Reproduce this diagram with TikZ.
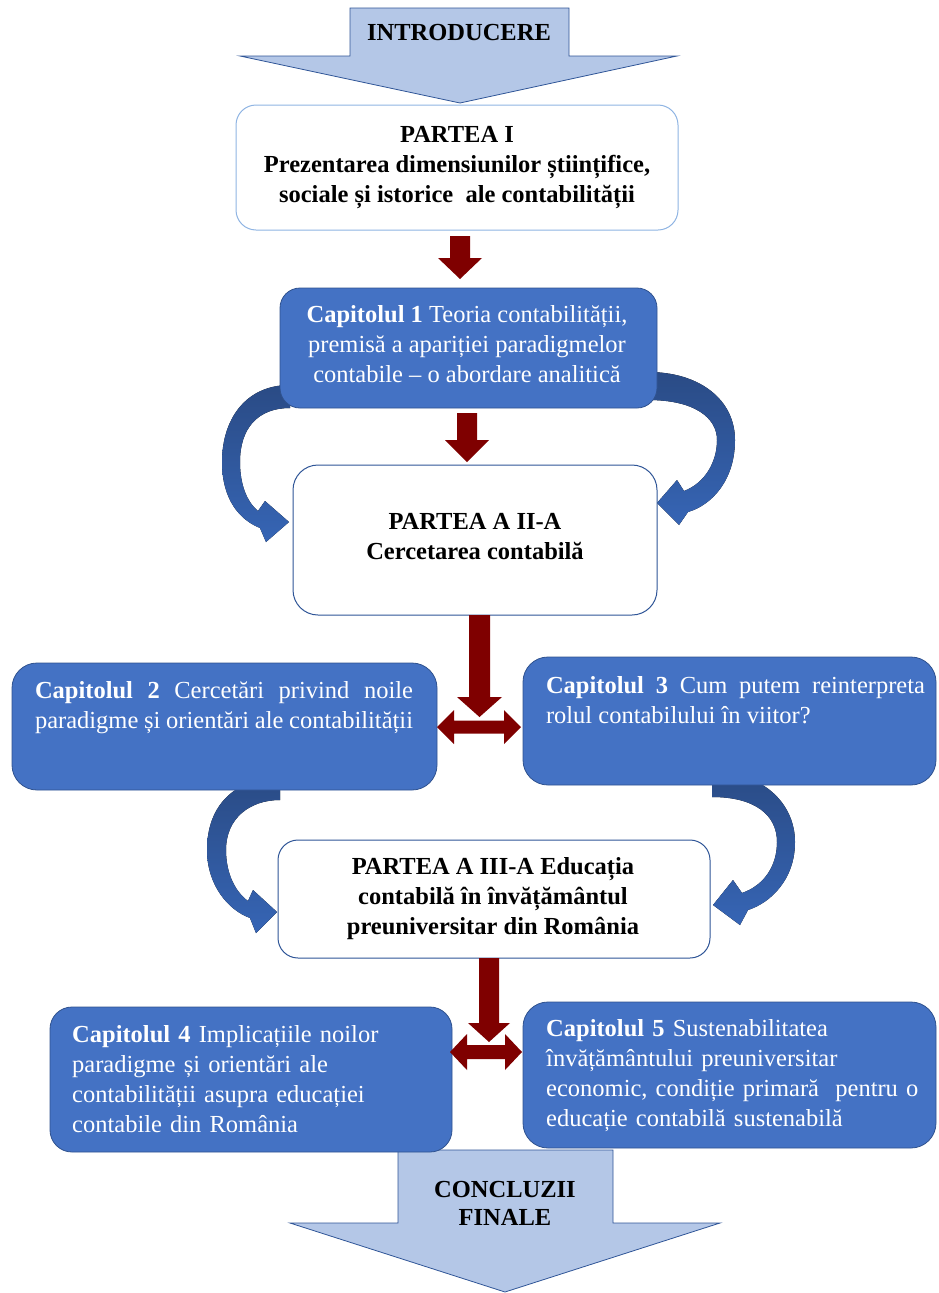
\documentclass[tikz,border=0pt]{standalone}
\usepackage{fontspec}
\setmainfont{Liberation Serif}
\definecolor{boxblue}{HTML}{4472C4}
\definecolor{boxedge}{HTML}{2F528F}
\definecolor{paleblue}{HTML}{B4C7E7}
\definecolor{lineblue}{HTML}{2F5597}
\definecolor{liteedge}{HTML}{8FB4E3}
\definecolor{darkred}{HTML}{7F0000}
\definecolor{curvetop}{HTML}{2A4B85}
\definecolor{curvebot}{HTML}{3665B5}
\begin{document}
\begin{tikzpicture}[x=1pt,y=-1pt,
  bluebox/.style={rectangle, rounded corners=20pt, fill=boxblue, draw=boxedge, line width=0.8pt, inner sep=0pt},
  whitebox/.style={rectangle, rounded corners=20pt, fill=white, draw=lineblue, line width=1pt, inner sep=0pt},
  txt/.style={inner sep=0pt, font=\fontsize{24.5}{30}\selectfont},
  wtxt/.style={txt, text=white},
  bigarrow/.style={fill=paleblue, draw=lineblue, line width=0.8pt, line join=miter},
  redblock/.style={fill=darkred},
  curved/.style={top color=curvetop, bottom color=curvebot}]
\useasboundingbox (0,0) rectangle (938,1293);

% large entry and exit arrows
\path[bigarrow] (350,8) -- (569,8) -- (569,56) -- (677,56) -- (460,103) -- (240,56) -- (350,56) -- cycle;
\node[txt, font=\fontsize{24.5}{30}\selectfont\bfseries] (intro) at (459,33) {INTRODUCERE};
\path[bigarrow] (398,1150) -- (613,1150) -- (613,1223) -- (720,1223) -- (505,1292) -- (290,1223) -- (398,1223) -- cycle;

% curved links (drawn beneath the boxes)
\fill[curved] (290,385) .. controls (245,385) and (222,420) .. (222,462)
  .. controls (222,500) and (240,520) .. (260,528) -- (266,542) -- (289,522) -- (265,501) -- (258,511)
  .. controls (246,501) and (240,483) .. (240,462)
  .. controls (240,428) and (258,408) .. (290,408) -- cycle;
\fill[curved] (648,372) .. controls (700,372) and (735,400) .. (735,440)
  .. controls (735,480) and (712,505) .. (688,512) -- (679,525) -- (657,503) -- (677,480) -- (684,491)
  .. controls (705,483) and (717,462) .. (717,440)
  .. controls (717,418) and (695,400) .. (648,400) -- cycle;
\fill[curved] (280,778) .. controls (235,778) and (207,805) .. (207,850)
  .. controls (207,885) and (228,910) .. (250,918) -- (256,933) -- (277,912) -- (253,890) -- (248,901)
  .. controls (233,890) and (226,870) .. (226,850)
  .. controls (226,818) and (250,800) .. (280,800) -- cycle;
\fill[curved] (712,772) .. controls (765,772) and (795,805) .. (795,842)
  .. controls (795,880) and (770,903) .. (748,910) -- (740,925) -- (713,905) -- (733,880) -- (742,893)
  .. controls (765,885) and (777,865) .. (777,842)
  .. controls (777,815) and (755,797) .. (712,797) -- cycle;

% boxes
\node[whitebox, draw=liteedge, minimum width=442pt, minimum height=125pt] (p1) at (457,167.5) {};
\node[bluebox, minimum width=377pt, minimum height=120pt] (c1) at (468.5,348) {};
\node[whitebox, rounded corners=25pt, minimum width=364pt, minimum height=150pt] (p2) at (475,540) {};
\node[bluebox, rounded corners=25pt, minimum width=425pt, minimum height=127pt] (c2) at (224.5,726.5) {};
\node[bluebox, rounded corners=25pt, minimum width=413pt, minimum height=128pt] (c3) at (729.5,721) {};
\node[whitebox, minimum width=432pt, minimum height=118pt] (p3) at (494,899) {};
\node[bluebox, rounded corners=22pt, minimum width=402pt, minimum height=145pt] (c4) at (251,1079.5) {};
\node[bluebox, rounded corners=25pt, minimum width=413pt, minimum height=146pt] (c5) at (729.5,1075) {};

% box texts
\node[txt, font=\fontsize{24.5}{30}\selectfont\bfseries, align=center] (t1) at (457,166)
  {\strut PARTEA I\\ Prezentarea dimensiunilor științifice,\\ sociale și istorice\ \ ale contabilității\strut};
\node[wtxt, align=center] (tc1) at (467,346)
  {\strut\textbf{Capitolul 1} Teoria contabilității,\\ premisă a apariției paradigmelor\\ contabile – o abordare analitică\strut};
\node[txt, font=\fontsize{24.5}{30}\selectfont\bfseries, align=center] (t2) at (475,538.5)
  {\strut PARTEA A II-A\\ Cercetarea contabilă\strut};
\node[wtxt, text width=378pt, align=justify] (tc2) at (224,707.5)
  {\strut\textbf{Capitolul 2} Cercetări privind noile\linebreak paradigme și orientări ale contabilității\strut};
\node[wtxt, text width=379pt, align=justify] (tc3) at (735.5,702)
  {\strut\textbf{Capitolul 3} Cum putem reinterpreta\linebreak rolul contabilului în viitor?\strut};
\node[txt, font=\fontsize{24.5}{30}\selectfont\bfseries, align=center] (t3) at (493,898.5)
  {\strut PARTEA A III-A Educația\\ contabilă în învățământul\\ preuniversitar din România\strut};
\node[wtxt, text width=372pt, align=left, anchor=west] (tc4) at (72,1081)
  {\strut\textbf{Capitolul 4} Implicațiile noilor\\ paradigme și orientări ale\\ contabilității asupra educației\\ contabile din România\strut};
\node[wtxt, text width=385pt, align=left, anchor=west] (tc5) at (546,1075)
  {\strut\textbf{Capitolul 5} Sustenabilitatea\\ învățământului preuniversitar\\ economic, condiție primară\ \ pentru o\\ educație contabilă sustenabilă\strut};
\node[txt, font=\fontsize{24.5}{28}\selectfont\bfseries, align=center] (concl) at (505,1206)
  {\strut CONCLUZII\\ FINALE\strut};

% dark red block arrows between the boxes
\fill[redblock] (450,236) -- (470,236) -- (470,258) -- (482,258) -- (460,279) -- (438,258) -- (450,258) -- cycle;
\fill[redblock] (457,413) -- (477,413) -- (477,440) -- (489,440) -- (467,462) -- (445,440) -- (457,440) -- cycle;
\fill[redblock] (469,615) -- (490,615) -- (490,697) -- (502,697) -- (479.5,717) -- (457,697) -- (469,697) -- cycle;
\fill[redblock] (437,727) -- (454,710) -- (454,720.5) -- (504,720.5) -- (504,710) -- (521,727)
  -- (504,744) -- (504,733.5) -- (454,733.5) -- (454,744) -- cycle;
\fill[redblock] (479,958) -- (499,958) -- (499,1023) -- (510,1023) -- (489,1042) -- (468,1023) -- (479,1023) -- cycle;
\fill[redblock] (450,1052) -- (467,1034) -- (467,1045) -- (505,1045) -- (505,1034) -- (522,1052)
  -- (505,1070) -- (505,1059) -- (467,1059) -- (467,1070) -- cycle;
\end{tikzpicture}
\end{document}
